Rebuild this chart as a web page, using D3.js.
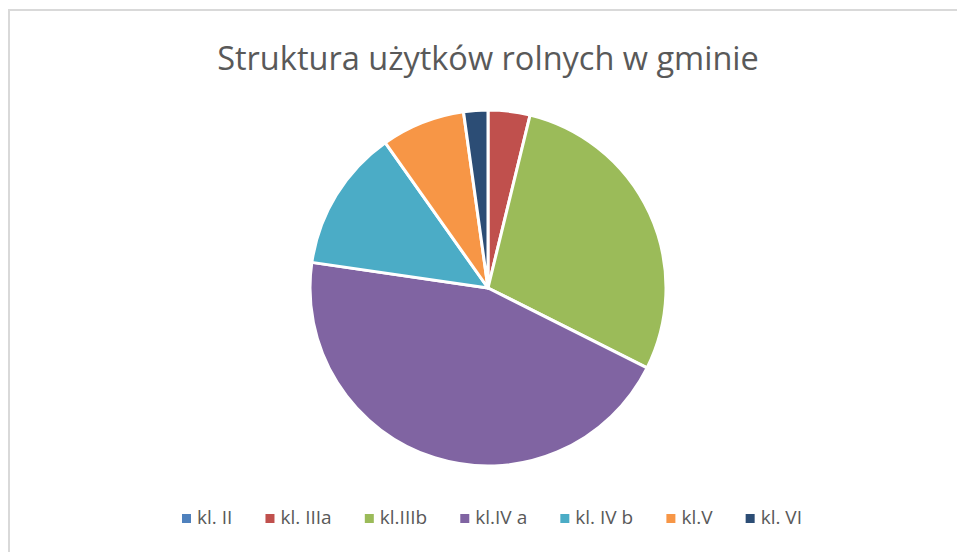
<!DOCTYPE html>
<html lang="pl">
<head>
<meta charset="UTF-8" />
<title>Struktura użytków rolnych w gminie</title>
<script src="https://cdn.jsdelivr.net/npm/d3@7"></script>
<style>
  body { margin: 0; background: #fff; }
  svg { display: block; font-family: "Open Sans", "Noto Sans", sans-serif; }
</style>
</head>
<body>
<div id="chart"></div>
<script>
// data (percent)
var categories = ["kl. II", "kl. IIIa", "kl.IIIb", "kl.IV a", "kl. IV b", "kl.V", "kl. VI"];
var values = [0, 3.8, 28.6, 44.9, 12.9, 7.6, 2.2];
var colors = ["#4F81BD", "#C0504D", "#9BBB59", "#8064A2", "#4BACC6", "#F79646", "#2C4D75"];

var width = 957, height = 552;
var cx = 488, cy = 288, radius = 178;

var svg = d3.select("#chart").append("svg")
  .attr("width", width)
  .attr("height", height);

// chart area border (only top/left visible in the shot)
svg.append("rect")
  .attr("x", 9).attr("y", 10)
  .attr("width", width + 20).attr("height", height + 20)
  .attr("fill", "none")
  .attr("stroke", "#d9d9d9")
  .attr("stroke-width", 2);

var title = svg.append("text")
  .attr("x", cx)
  .attr("y", 70)
  .attr("text-anchor", "middle")
  .attr("fill", "#595959")
  .style("font-size", "31px")
  .text("Struktura użytków rolnych w gminie");
// fit the title to the width it has in the picture
var tw = title.node().getComputedTextLength();
title.style("font-size", (31 * 542 / tw) + "px");

var data = categories.map(function(c, i) { return {name: c, value: values[i], color: colors[i]}; });

var pie = d3.pie().sort(null).value(function(d) { return d.value; });
var arc = d3.arc().innerRadius(0).outerRadius(radius);

var g = svg.append("g").attr("transform", "translate(" + cx + "," + cy + ")");
g.selectAll("path")
  .data(pie(data))
  .enter()
  .append("path")
  .attr("d", arc)
  .attr("fill", function(d) { return d.data.color; })
  .attr("stroke", "#fff")
  .attr("stroke-width", 3)
  .attr("stroke-linejoin", "round");

// legend
var legend = svg.append("g");
var items = legend.selectAll("g.item")
  .data(data)
  .enter()
  .append("g")
  .attr("class", "item");

items.append("rect")
  .attr("y", 1)
  .attr("width", 9).attr("height", 9)
  .attr("fill", function(d) { return d.color; });

items.append("text")
  .attr("x", 15)
  .attr("y", 11)
  .attr("fill", "#595959")
  .style("font-size", "19px")
  .text(function(d) { return d.name; });

// spread items so the legend spans ~620px like the original
var widths = [];
items.each(function() { widths.push(d3.select(this).select("text").node().getComputedTextLength()); });
var used = d3.sum(widths) + 15 * widths.length;
var gap = (620 - used) / (widths.length - 1);
var x = 0;
items.each(function(d, i) {
  d3.select(this).attr("transform", "translate(" + x + ",0)");
  x += 15 + widths[i] + gap;
});
legend.attr("transform", "translate(" + (cx + 4 - 620 / 2) + ",513)");
</script>
</body>
</html>
